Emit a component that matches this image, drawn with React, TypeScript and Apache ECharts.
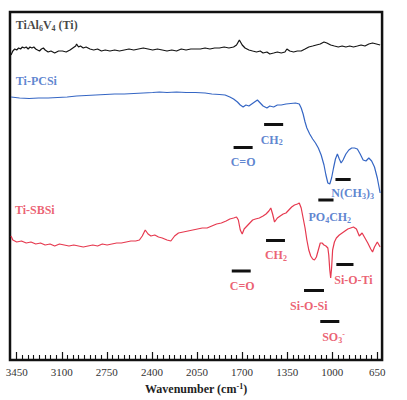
import React, { useEffect, useRef } from 'react';
import * as echarts from 'echarts';

// ---- Data (wavenumber in cm-1, transmittance in arbitrary offset units) ----
const tiWn = [3494,3480,3465,3450,3435,3420,3406,3391,3376,3361,3347,3332,3317,3302,3288,3273,3258,3243,3229,3206,3184,3155,3125,3095,3066,3036,3014,2992,2985,2970,2955,2933,2911,2881,2852,2822,2792,2763,2726,2689,2652,2615,2578,2541,2504,2467,2430,2394,2357,2320,2283,2246,2209,2172,2135,2098,2061,2024,1987,1950,1913,1876,1839,1802,1766,1743,1721,1699,1677,1647,1618,1588,1559,1537,1507,1485,1455,1426,1396,1367,1352,1330,1300,1271,1241,1211,1182,1152,1123,1093,1064,1042,1012,983,953,923,894,864,835,805,776,746,716,687,657,628];
const tiT = [305,309,311,310,312,311,313,312,313,311,313,312,313,311,310,309,311,312,310,308,309,307,309,309,308,310,312,314,316,313,314,312,313,311,310,311,309,310,309,310,309,310,311,310,311,312,311,310,311,310,309,310,309,311,310,311,311,311,312,311,312,312,313,312,313,315,320,315,312,310,309,308,309,307,308,306,307,308,307,308,311,309,308,309,309,311,313,314,315,316,318,317,315,314,313,314,313,314,313,314,315,314,316,317,316,315];

const pcsiWn = [3494,3428,3354,3280,3206,3132,3058,2985,2911,2837,2763,2689,2615,2541,2467,2394,2342,2283,2209,2135,2061,1987,1935,1876,1832,1795,1766,1736,1714,1692,1670,1647,1625,1603,1581,1559,1537,1507,1485,1455,1426,1396,1359,1322,1285,1256,1241,1226,1211,1197,1175,1152,1130,1108,1086,1064,1049,1034,1019,1005,990,975,960,945,931,916,894,871,849,827,805,783,760,738,716,694,672,650,628];
const pcsiT = [263,262,261.5,262,262,262.5,263,264,264.5,265,265.5,266,266,266.5,267,267.5,268,267.5,268,267.5,267.5,267,266,265.5,265,263,261,258,255,253,255,254,256,258,260,257,254,252,254,253,255,255,256,256.5,257,256,252,246,238,232,226,221,217,212,205,195,185,177,176,182,192,201,206,201,197,200,206,210,212,212,211,206,200,199,202,199,193,182,167];

const sbsiWn = [3494,3480,3450,3413,3376,3339,3302,3265,3229,3191,3155,3118,3081,3044,3007,2970,2933,2896,2859,2822,2785,2748,2711,2674,2637,2600,2563,2526,2497,2475,2452,2430,2408,2378,2349,2320,2283,2253,2224,2194,2157,2120,2083,2046,2009,1972,1935,1898,1861,1824,1795,1766,1743,1729,1714,1699,1684,1662,1640,1618,1596,1566,1537,1514,1492,1477,1463,1448,1426,1404,1381,1359,1337,1315,1293,1270,1256,1241,1226,1211,1197,1182,1167,1152,1138,1123,1108,1093,1079,1064,1049,1034,1027,1019,1012,1005,997,983,968,945,923,901,879,857,835,812,790,768,746,724,701,687,672,650,628];
const sbsiT = [124,120,118,119,117,118,116,117,115,116,114,116,115,114,115,114,113,114,115,114,116,115,116,117,117,118,119,119,120,124,130,126,124,125,123,122,120,119,124,127,128,129,130,131,132,132,134,136,137,139,141,142,143,140,130,126,131,134,137,140,141,142,144,146,149,152,146,138,142,144,146,147,150,153,155,156,157,152,142,132,120,110,104,101,100,103,110,117,117,115,114,112,105,90,82,92,110,118,122,125,127,129,131,132,133,131,124,127,122,117,111,108,113,118,113];

const majorTicks = [3450, 3100, 2750, 2400, 2050, 1700, 1350, 1000, 650];

// series name labels
const nameText = ['{m|TiAl}{s|6}{m|V}{s|4}{m| (Ti)}', '{m|Ti-PCSi}', '{m|Ti-SBSi}'];
const nameGroup = [0, 1, 2];
const nameWn = [3457, 3457, 3464];
const nameT = [335, 279, 150];

// band annotations
const annText = ['{m|C=O}', '{m|CH}{s|2}', '{m|PO}{s|4}{m|CH}{s|2}', '{m|N(CH}{s|3}{m|)}{s|3}', '{m|CH}{s|2}', '{m|C=O}', '{m|Si-O-Si}', '{m|SO}{s|3}{p|-}', '{m|Si-O-Ti}'];
const annGroup = [1, 1, 1, 1, 2, 2, 2, 2, 2];
const barFrom = [1766, 1529, 1108, 975, 1514, 1780, 1219, 1093, 968];
const barTo = [1618, 1381, 990, 857, 1367, 1633, 1064, 945, 835];
const barT = [212.5, 235.5, 160, 180.5, 119.5, 89, 69.5, 38.5, 95.5];
const annWn = [1692, 1470, 1019, 842, 1437, 1699, 1182, 990, 835];
const annT = [198, 220.5, 143, 167, 105, 74, 54, 23, 80.5];

const SERIF = "'Liberation Serif', 'Times New Roman', serif";
const COLORS = ['#141414', '#3566c4', '#e6394f'];

function rich(color: string, size = 12) {
  return {
    m: { color, fontFamily: SERIF, fontWeight: 'bold', fontSize: size },
    s: { color, fontFamily: SERIF, fontWeight: 'bold', fontSize: Math.round(size * 0.66), padding: [Math.round(size * 0.5), 0, 0, 0] },
    p: { color, fontFamily: SERIF, fontWeight: 'bold', fontSize: Math.round(size * 0.66), padding: [0, 0, Math.round(size * 0.5), 0] },
  };
}

export default function App() {
  const ref = useRef<HTMLDivElement>(null);
  useEffect(() => {
    if (!ref.current) return;
    const chart = echarts.init(ref.current, null, { renderer: 'svg' });
    const minorTicks: number[] = [];
    for (let i = 0; i < majorTicks.length - 1; i++) {
      for (let k = 1; k < 8; k++) minorTicks.push(majorTicks[i] - (350 / 8) * k);
    }
    const zip = (a: number[], b: number[]) => a.map((v, i) => [v, b[i]]);
    const lineSeries = [
      { name: 'TiAl6V4 (Ti)', data: zip(tiWn, tiT), color: COLORS[0] },
      { name: 'Ti-PCSi', data: zip(pcsiWn, pcsiT), color: COLORS[1] },
      { name: 'Ti-SBSi', data: zip(sbsiWn, sbsiT), color: COLORS[2] },
    ].map((s) => ({
      type: 'line',
      name: s.name,
      data: s.data,
      symbol: 'none',
      smooth: false,
      lineStyle: { color: s.color, width: 1.2 },
      xAxisIndex: 0,
      yAxisIndex: 0,
      z: 3,
    }));
    const barSeries = barFrom.map((f, i) => ({
      type: 'line',
      data: [[f, barT[i]], [barTo[i], barT[i]]],
      symbol: 'none',
      lineStyle: { color: '#111', width: 3 },
      xAxisIndex: 0,
      yAxisIndex: 0,
      z: 4,
      silent: true,
    }));
    const nameSeries = {
      type: 'scatter',
      symbolSize: 1,
      itemStyle: { color: 'rgba(0,0,0,0)' },
      silent: true,
      z: 5,
      data: nameText.map((t, i) => ({
        value: [nameWn[i], nameT[i]],
        label: {
          show: true,
          position: 'inside',
          align: 'left',
          verticalAlign: 'middle',
          formatter: t,
          rich: rich(COLORS[nameGroup[i]], 12),
        },
      })),
    };
    const annSeries = {
      type: 'scatter',
      symbolSize: 1,
      itemStyle: { color: 'rgba(0,0,0,0)' },
      silent: true,
      z: 5,
      data: annText.map((t, i) => ({
        value: [annWn[i], annT[i]],
        label: {
          show: true,
          position: 'inside',
          align: 'center',
          verticalAlign: 'middle',
          formatter: t,
          rich: rich(COLORS[annGroup[i]], 12),
        },
      })),
    };
    chart.setOption({
      animation: false,
      backgroundColor: '#ffffff',
      grid: {
        left: 10, right: 6, top: 12, bottom: 40,
        show: true, borderColor: '#111', borderWidth: 2.5, backgroundColor: 'transparent',
      },
      xAxis: [
        {
          type: 'value', inverse: true, min: 613, max: 3502,
          axisLine: { show: false },
          splitLine: { show: false },
          axisTick: { show: true, inside: true, length: 8, customValues: majorTicks, lineStyle: { color: '#111', width: 1.2 } },
          axisLabel: {
            show: true, customValues: majorTicks, margin: 6, fontFamily: SERIF, fontSize: 11, color: '#333',
            formatter: (v: number) => String(v),
          },
          name: '{m|Wavenumber (cm}{p|-1}{m|)}',
          nameLocation: 'middle',
          nameGap: 22,
          nameTextStyle: { rich: rich('#222', 12) },
        },
        {
          type: 'value', inverse: true, min: 613, max: 3502,
          position: 'bottom',
          axisLine: { show: false },
          splitLine: { show: false },
          axisTick: { show: true, inside: true, length: 5, customValues: minorTicks, lineStyle: { color: '#111', width: 1.1 } },
          axisLabel: { show: false },
        },
      ],
      yAxis: { type: 'value', min: 0, max: 348, show: false },
      series: [...lineSeries, ...barSeries, nameSeries, annSeries],
    });
    return () => chart.dispose();
  }, []);
  return <div ref={ref} style={{ position: 'fixed', left: 0, top: 0, width: 407, height: 400, background: '#fff' }} />;
}
